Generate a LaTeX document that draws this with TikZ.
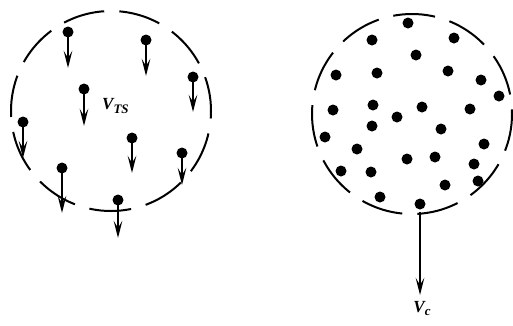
\documentclass[tikz,border=0pt]{standalone}
\usepackage{fontspec}
\setmainfont{Liberation Serif}
\usetikzlibrary{arrows.meta}
\begin{document}
\begin{tikzpicture}[x=1pt,y=-1pt,
  bound/.style={line width=2pt, dash pattern=on 42pt off 15.12pt},
  dotp/.style={circle, fill=black, inner sep=0pt, minimum size=11pt},
  vel/.style={line width=2.4pt, -{Stealth[length=17pt,width=8.5pt,inset=7pt]}},
  lab/.style={inner sep=0pt}]
\useasboundingbox (0,0) rectangle (513,325);
% left cloud
\draw[bound, dash phase=34.5pt] (111,111) circle (100);
\foreach \n/\x/\y/\l in {a/68/32/36, b/146/40/36, c/193/77/35, d/84/89/37, e/23/122/36, f/132/138/35, g/182/153/32, h/62/168/45, i/118/200/38} {
  \node[dotp] (p\n) at (\x,\y) {};
  \coordinate (t\n) at (\x,\y+\l);
  \draw[vel] (p\n.center) -- (t\n);
}
\node[lab, anchor=west] (vts) at (102,106) {\fontsize{17}{20}\selectfont\bfseries\itshape V\raisebox{-0.4ex}{\fontsize{13}{15}\selectfont TS}};
% right cloud
\draw[bound, dash phase=4.5pt] (412,114) circle (100);
\foreach \n/\x/\y in {1/408/23, 2/372/40, 3/454/38, 4/416/55, 5/336/75, 6/377/73, 7/448/71, 8/481/80, 9/499/96, 10/333/110, 11/373/105, 12/422/107, 13/397/117, 14/470/109, 15/372/126, 16/441/129, 17/325/137, 18/357/149, 19/484/144, 20/407/159, 21/435/157, 22/341/171, 23/371/172, 24/474/164, 25/445/185, 26/478/181, 27/380/197, 28/420/204} {
  \node[dotp] (q\n) at (\x,\y) {};
}
\coordinate (cbot) at (420,212);
\coordinate (ctip) at (420,295);
\draw[vel] (cbot) -- (ctip);
\node[lab, anchor=north] (vc) at (422,301) {\fontsize{17}{20}\selectfont\bfseries\itshape V\raisebox{-0.4ex}{\fontsize{13}{15}\selectfont c}};
\end{tikzpicture}
\end{document}
